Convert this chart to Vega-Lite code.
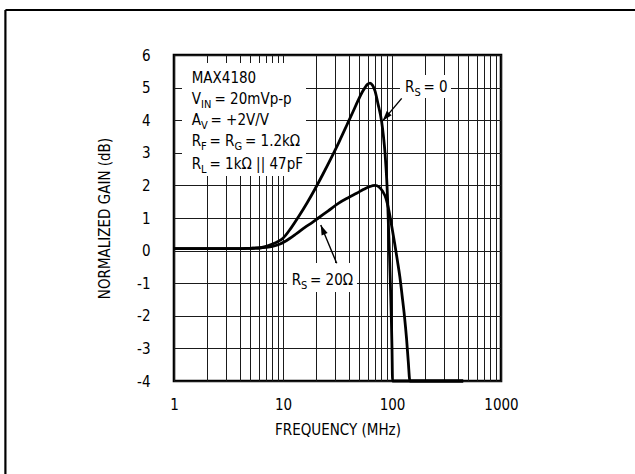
{
  "$schema": "https://vega.github.io/schema/vega-lite/v6.json",
  "width": 327,
  "height": 326,
  "autosize": {"type": "none"},
  "padding": {"left": 174, "top": 55, "right": 134, "bottom": 93},
  "background": "white",
  "config": {
    "font": "DejaVu Sans Condensed, DejaVu Sans, sans-serif",
    "view": {"stroke": "black", "strokeWidth": 2.6},
    "axis": {
      "labelFont": "DejaVu Sans Condensed, DejaVu Sans, sans-serif",
      "titleFont": "DejaVu Sans Condensed, DejaVu Sans, sans-serif",
      "labelFontSize": 15,
      "titleFontSize": 15,
      "titleFontWeight": "normal",
      "labelColor": "black",
      "titleColor": "black",
      "labelFlush": false,
      "ticks": false,
      "tickSize": 0,
      "domain": false,
      "grid": true,
      "gridColor": "#1a1a1a",
      "gridWidth": 1,
      "gridOpacity": 1
    }
  },
  "datasets": {
    "curves": [
      {"f": 1, "g": 0.06, "s": "RS0"},
      {"f": 2, "g": 0.06, "s": "RS0"},
      {"f": 3, "g": 0.06, "s": "RS0"},
      {"f": 4, "g": 0.06, "s": "RS0"},
      {"f": 5, "g": 0.07, "s": "RS0"},
      {"f": 6, "g": 0.08, "s": "RS0"},
      {"f": 7, "g": 0.13, "s": "RS0"},
      {"f": 8, "g": 0.2, "s": "RS0"},
      {"f": 9, "g": 0.28, "s": "RS0"},
      {"f": 10, "g": 0.38, "s": "RS0"},
      {"f": 11.84, "g": 0.69, "s": "RS0"},
      {"f": 14.02, "g": 1.06, "s": "RS0"},
      {"f": 16.61, "g": 1.46, "s": "RS0"},
      {"f": 19.66, "g": 1.89, "s": "RS0"},
      {"f": 23.28, "g": 2.35, "s": "RS0"},
      {"f": 27.56, "g": 2.83, "s": "RS0"},
      {"f": 32.64, "g": 3.33, "s": "RS0"},
      {"f": 38.65, "g": 3.86, "s": "RS0"},
      {"f": 43.87, "g": 4.26, "s": "RS0"},
      {"f": 48.77, "g": 4.6, "s": "RS0"},
      {"f": 53.06, "g": 4.85, "s": "RS0"},
      {"f": 56.55, "g": 5.0, "s": "RS0"},
      {"f": 59.6, "g": 5.1, "s": "RS0"},
      {"f": 62.85, "g": 5.14, "s": "RS0"},
      {"f": 66.25, "g": 5.07, "s": "RS0"},
      {"f": 69.8, "g": 4.9, "s": "RS0"},
      {"f": 74.4, "g": 4.5, "s": "RS0"},
      {"f": 80.4, "g": 3.95, "s": "RS0"},
      {"f": 83.5, "g": 3.5, "s": "RS0"},
      {"f": 86.3, "g": 3.0, "s": "RS0"},
      {"f": 88.3, "g": 2.5, "s": "RS0"},
      {"f": 90, "g": 2.0, "s": "RS0"},
      {"f": 91.3, "g": 1.5, "s": "RS0"},
      {"f": 92.7, "g": 0.8, "s": "RS0"},
      {"f": 94.6, "g": 0.0, "s": "RS0"},
      {"f": 96.6, "g": -1.0, "s": "RS0"},
      {"f": 98.5, "g": -2.0, "s": "RS0"},
      {"f": 100, "g": -3.0, "s": "RS0"},
      {"f": 101.2, "g": -4.0, "s": "RS0"},
      {"f": 450, "g": -4.0, "s": "RS0"},
      {"f": 1, "g": 0.06, "s": "RS20"},
      {"f": 4, "g": 0.06, "s": "RS20"},
      {"f": 5, "g": 0.07, "s": "RS20"},
      {"f": 6, "g": 0.08, "s": "RS20"},
      {"f": 7, "g": 0.1, "s": "RS20"},
      {"f": 8, "g": 0.13, "s": "RS20"},
      {"f": 9.4, "g": 0.2, "s": "RS20"},
      {"f": 11.5, "g": 0.37, "s": "RS20"},
      {"f": 13.4, "g": 0.53, "s": "RS20"},
      {"f": 16, "g": 0.72, "s": "RS20"},
      {"f": 18.5, "g": 0.86, "s": "RS20"},
      {"f": 21.1, "g": 1.0, "s": "RS20"},
      {"f": 26, "g": 1.22, "s": "RS20"},
      {"f": 32.2, "g": 1.45, "s": "RS20"},
      {"f": 40, "g": 1.63, "s": "RS20"},
      {"f": 47.4, "g": 1.76, "s": "RS20"},
      {"f": 55, "g": 1.88, "s": "RS20"},
      {"f": 62, "g": 1.96, "s": "RS20"},
      {"f": 70.3, "g": 2.0, "s": "RS20"},
      {"f": 76, "g": 1.95, "s": "RS20"},
      {"f": 82, "g": 1.82, "s": "RS20"},
      {"f": 88, "g": 1.6, "s": "RS20"},
      {"f": 94, "g": 1.2, "s": "RS20"},
      {"f": 100, "g": 0.7, "s": "RS20"},
      {"f": 106, "g": 0.2, "s": "RS20"},
      {"f": 112, "g": -0.3, "s": "RS20"},
      {"f": 118, "g": -0.8, "s": "RS20"},
      {"f": 124, "g": -1.4, "s": "RS20"},
      {"f": 130, "g": -2.0, "s": "RS20"},
      {"f": 136, "g": -2.7, "s": "RS20"},
      {"f": 141, "g": -3.4, "s": "RS20"},
      {"f": 146, "g": -4.0, "s": "RS20"},
      {"f": 450, "g": -4.0, "s": "RS20"}
    ],
    "boxes": [
      {"f": 1.184, "f2": 16.26, "g": 5.755, "g2": 2.288},
      {"f": 118.4, "f2": 347.7, "g": 5.387, "g2": 4.681},
      {"f": 10.88, "f2": 47.7, "g": -0.38, "g2": -1.27}
    ],
    "arrows": [
      {"f": 122.7, "g": 4.67, "f2": 82.2, "g2": 3.98},
      {"f": 31.1, "g": -0.39, "f2": 22.2, "g2": 0.785}
    ],
    "frame": [
      {"f": 0.0284, "f2": 18800, "g": 7.38, "g2": 7.38},
      {"f": 0.0284, "f2": 0.0284, "g": 7.38, "g2": -7.04}
    ],
    "mainText": [
      {"f": 1.453, "g": 5.132, "t": "MAX4180"},
      {"f": 1.453, "g": 4.497, "t": "V"},
      {"f": 2.353, "g": 4.497, "t": "= 20mVp-p"},
      {"f": 1.453, "g": 3.853, "t": "A"},
      {"f": 2.162, "g": 3.853, "t": "= +2V/V"},
      {"f": 1.453, "g": 3.218, "t": "R"},
      {"f": 2.117, "g": 3.218, "t": "= R"},
      {"f": 4.481, "g": 3.218, "t": "= 1.2kΩ"},
      {"f": 1.453, "g": 2.494, "t": "R"},
      {"f": 2.117, "g": 2.494, "t": "= 1kΩ || 47pF"},
      {"f": 131.6, "g": 4.874, "t": "R"},
      {"f": 194.5, "g": 4.874, "t": "= 0"},
      {"f": 12.02, "g": -1.055, "t": "R"},
      {"f": 17.69, "g": -1.055, "t": "= 20Ω"}
    ],
    "subText": [
      {"f": 1.769, "g": 4.497, "t": "IN"},
      {"f": 1.769, "g": 3.853, "t": "V"},
      {"f": 1.769, "g": 3.218, "t": "F"},
      {"f": 3.589, "g": 3.218, "t": "G"},
      {"f": 1.769, "g": 2.494, "t": "L"},
      {"f": 160.8, "g": 4.874, "t": "S"},
      {"f": 14.63, "g": -1.055, "t": "S"}
    ]
  },
  "encoding": {
    "x": {
      "field": "f", "type": "quantitative",
      "scale": {"type": "log", "domain": [1, 1000], "nice": false},
      "axis": {
        "title": "FREQUENCY (MHz)",
        "values": [1, 2, 3, 4, 5, 6, 7, 8, 9, 10, 20, 30, 40, 50, 60, 70, 80, 90, 100, 200, 300, 400, 500, 600, 700, 800, 900, 1000],
        "format": "d",
        "labelExpr": "(datum.value == 1 || datum.value == 10 || datum.value == 100 || datum.value == 1000) ? datum.label : ''",
        "labelOverlap": false,
        "labelPadding": 16,
        "titlePadding": 10
      }
    },
    "y": {
      "field": "g", "type": "quantitative",
      "scale": {"domain": [-4, 6], "nice": false},
      "axis": {
        "title": "NORMALIZED GAIN (dB)",
        "values": [-4, -3, -2, -1, 0, 1, 2, 3, 4, 5, 6],
        "labelExpr": "datum.value < 0 ? '-' + abs(datum.value) : '' + datum.value",
        "labelOverlap": false,
        "labelPadding": 24,
        "titlePadding": 24
      }
    }
  },
  "layer": [
    {
      "data": {"name": "boxes"},
      "mark": {"type": "rect", "color": "white", "opacity": 1},
      "encoding": {
        "x2": {"field": "f2"},
        "y2": {"field": "g2"}
      }
    },
    {
      "data": {"name": "curves"},
      "mark": {"type": "line", "color": "black", "strokeWidth": 2.8, "interpolate": "monotone", "clip": false},
      "encoding": {
        "detail": {"field": "s"}
      }
    },
    {
      "data": {"name": "arrows"},
      "mark": {"type": "rule", "color": "black", "strokeWidth": 1.4},
      "encoding": {
        "x2": {"field": "f2"},
        "y2": {"field": "g2"}
      }
    },
    {
      "data": {"values": [{"f": 82.2, "g": 3.98}]},
      "mark": {"type": "point", "shape": "M0,0L0.65,2L-0.65,2Z", "filled": true, "color": "black", "opacity": 1, "size": 100, "angle": 220.3}
    },
    {
      "data": {"values": [{"f": 22.2, "g": 0.785}]},
      "mark": {"type": "point", "shape": "M0,0L0.65,2L-0.65,2Z", "filled": true, "color": "black", "opacity": 1, "size": 100, "angle": 337.3}
    },
    {
      "data": {"name": "mainText"},
      "mark": {"type": "text", "align": "left", "baseline": "alphabetic", "fontSize": 15, "color": "black", "font": "DejaVu Sans Condensed, DejaVu Sans, sans-serif"},
      "encoding": {
        "text": {"field": "t"}
      }
    },
    {
      "data": {"name": "subText"},
      "mark": {"type": "text", "align": "left", "baseline": "alphabetic", "fontSize": 11, "dy": 4, "color": "black", "font": "DejaVu Sans Condensed, DejaVu Sans, sans-serif"},
      "encoding": {
        "text": {"field": "t"}
      }
    },
    {
      "data": {"name": "frame"},
      "mark": {"type": "rule", "color": "black", "strokeWidth": 2.2, "clip": false},
      "encoding": {
        "x2": {"field": "f2"},
        "y2": {"field": "g2"}
      }
    }
  ]
}
